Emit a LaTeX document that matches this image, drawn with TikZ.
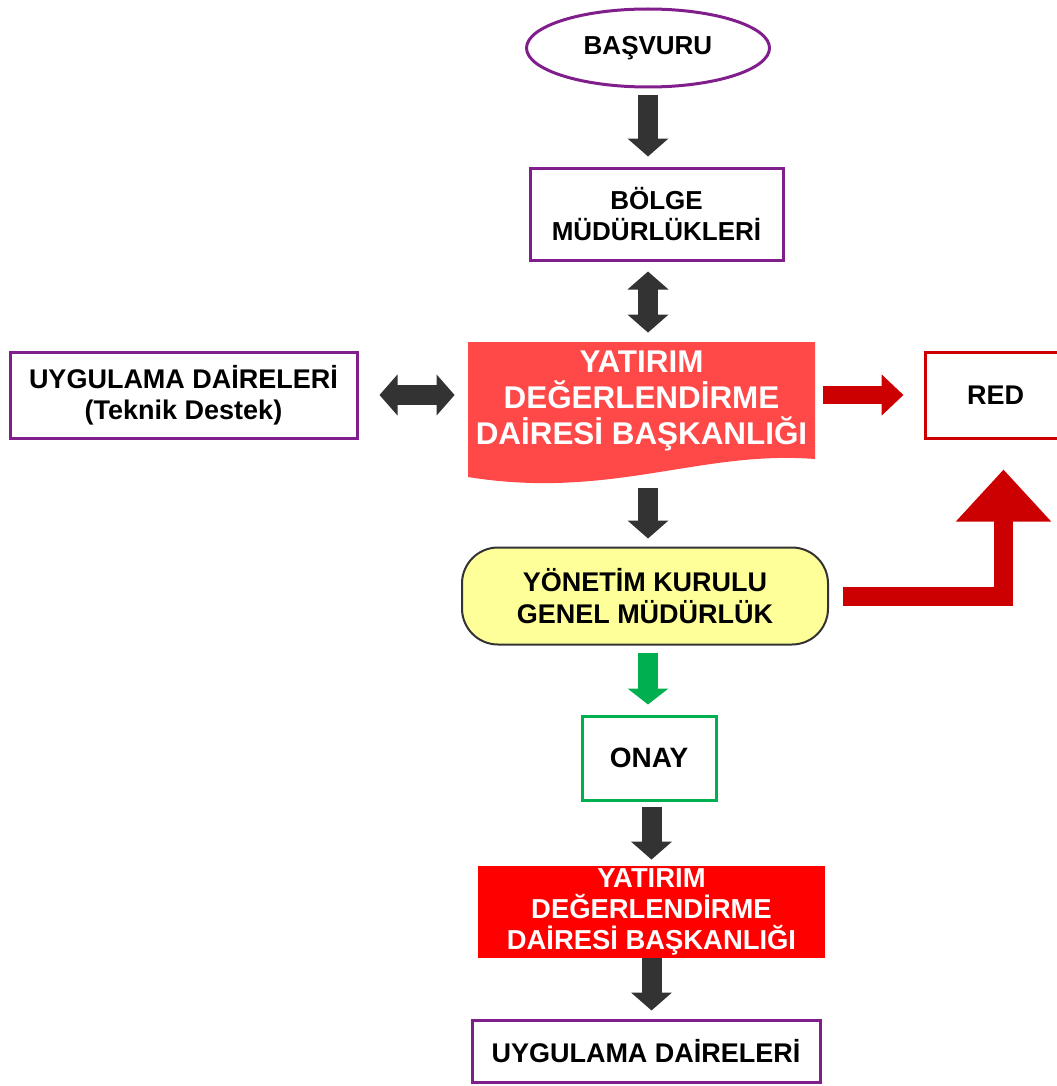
\documentclass[tikz,border=0pt]{standalone}
\usepackage{fontspec}
\setmainfont{Liberation Sans}
\usetikzlibrary{shapes.geometric,arrows.meta}

\definecolor{mor}{RGB}{128,30,140}
\definecolor{koyu}{RGB}{51,51,51}
\definecolor{kirmizi}{RGB}{204,0,0}
\definecolor{acikkirmizi}{RGB}{255,72,72}
\definecolor{sari}{RGB}{255,255,153}
\definecolor{yesil}{RGB}{0,176,80}

\tikzset{
  kutu/.style={draw=mor, line width=1.5pt, fill=white, align=center, font=\bfseries\fontsize{13.5}{15.5}\selectfont, inner sep=0pt},
  okdown/.style={koyu, line width=10pt, -{Triangle[width=20pt,length=9pt]}},
  okcift/.style={koyu, line width=10pt, {Triangle[width=20pt,length=9pt]}-{Triangle[width=20pt,length=9pt]}},
  okred/.style={kirmizi, line width=9pt, -{Triangle[width=20pt,length=11pt]}},
}

\begin{document}
\begin{tikzpicture}[x=0.5pt,y=-0.5pt]
\useasboundingbox (0,0) rectangle (1056,1086);

% basvuru
\node[ellipse, draw=mor, line width=1.5pt, minimum width=121.5pt, minimum height=39pt, inner sep=0pt, font=\bfseries\fontsize{13}{15.5}\selectfont] (basvuru) at (648,48) {BAŞVURU};

\node[kutu, font=\bfseries\fontsize{13}{15.5}\selectfont, minimum width=126.5pt, minimum height=46pt] (bolge) at (656.5,214) {BÖLGE\\MÜDÜRLÜKLERİ};

% ydb belgesi
\fill[acikkirmizi] (468,342) -- (815,342) -- (815,459)
  .. controls (700,450) and (610,500) .. (468,477) -- cycle;
\node[align=center, text=white, font=\bfseries\fontsize{15.7}{18}\selectfont, minimum width=173.5pt, minimum height=60pt] (ydb) at (641.5,401) {YATIRIM\\DEĞERLENDİRME\\DAİRESİ BAŞKANLIĞI};

\node[kutu, minimum width=173.5pt, minimum height=43pt] (teknik) at (183.5,395) {UYGULAMA DAİRELERİ\\(Teknik Destek)};

\node[kutu, draw=kirmizi, minimum width=70.5pt, minimum height=43pt] (red) at (995.5,395) {RED};

\node[draw=koyu, line width=1pt, fill=sari, rounded corners=18pt, minimum width=183pt, minimum height=48.5pt, align=center, font=\bfseries\fontsize{13.5}{16}\selectfont] (kurul) at (645,596) {YÖNETİM KURULU\\GENEL MÜDÜRLÜK};

\node[kutu, draw=yesil, font=\bfseries\fontsize{14}{16}\selectfont, minimum width=67pt, minimum height=42pt] (onay) at (649,758) {ONAY};

\node[fill=red, align=center, text=white, inner sep=0pt, minimum width=173.5pt, minimum height=46pt, font=\bfseries\fontsize{13.7}{15.5}\selectfont] (ydb2) at (651.5,912) {YATIRIM\\DEĞERLENDİRME\\DAİRESİ BAŞKANLIĞI};

\node[kutu, minimum width=174pt, minimum height=31pt] (uygulama) at (646,1051) {UYGULAMA DAİRELERİ};

% oklar
\draw[okdown] ([yshift=-3.5pt]basvuru.south) -- ([yshift=5pt]bolge.north -| basvuru.south);
\draw[okcift] ([yshift=-5pt]bolge.south -| basvuru.south) -- ([yshift=4pt]ydb.north -| basvuru.south);
\draw[okcift] ([xshift=10.5pt]teknik.east) -- ([xshift=-6.5pt]ydb.west |- teknik.east);
\draw[okred] ([xshift=4pt]ydb.east |- red.west) -- ([xshift=-10pt]red.west);
\draw[okdown] (648,488) -- ([yshift=4pt]kurul.north -| basvuru.south);
\draw[kirmizi, line width=9.5pt, -{Triangle[width=46pt,length=26pt]}] ([xshift=7pt]kurul.east) -| ([xshift=4pt,yshift=-15pt]red.south);
\draw[yesil, line width=10pt, -{Triangle[width=20pt,length=8pt]}] ([yshift=-3.5pt]kurul.south -| basvuru.south) -- ([yshift=5pt]onay.north -| basvuru.south);
\draw[okdown] ([yshift=-2.5pt]onay.south -| ydb2.north) -- ([yshift=3pt]ydb2.north);
\draw[okdown] (ydb2.south) -- ([yshift=4pt]uygulama.north -| ydb2.south);
\end{tikzpicture}
\end{document}
